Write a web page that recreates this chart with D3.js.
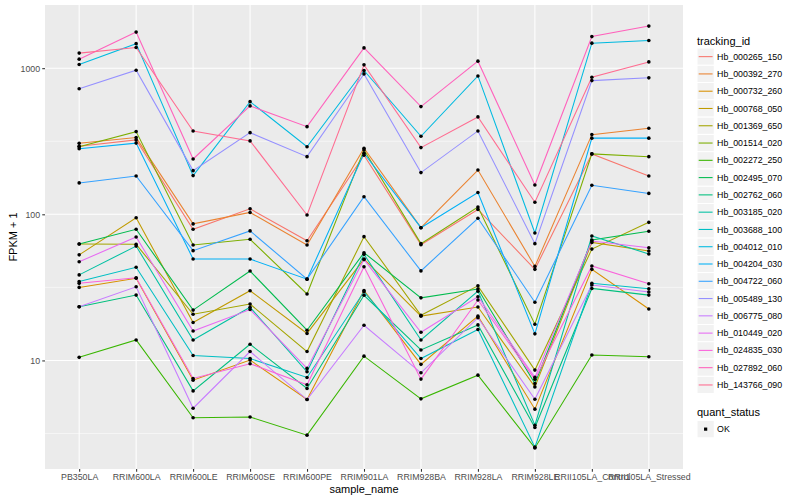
<!DOCTYPE html>
<html>
<head>
<meta charset="utf-8">
<script src="https://cdn.jsdelivr.net/npm/d3@7"></script>
<style>
  body { margin: 0; background: #fff; }
  text { font-family: "Liberation Sans", Arial, sans-serif; }
</style>
</head>
<body>
<div id="chart"></div>
<script>
// samples on the x axis
var samples = ["PB350LA", "RRIM600LA", "RRIM600LE", "RRIM600SE", "RRIM600PE", "RRIM901LA",
  "RRIM928BA", "RRIM928LA", "RRIM928LE", "RRII105LA_Control", "RRII105LA_Stressed"];

var trackingIds = ["Hb_000265_150", "Hb_000392_270", "Hb_000732_260", "Hb_000768_050", "Hb_001369_650",
  "Hb_001514_020", "Hb_002272_250", "Hb_002495_070", "Hb_002762_060", "Hb_003185_020",
  "Hb_003688_100", "Hb_004012_010", "Hb_004204_030", "Hb_004722_060", "Hb_005489_130",
  "Hb_006775_080", "Hb_010449_020", "Hb_024835_030", "Hb_027892_060", "Hb_143766_090"];

// ggplot default hue palette for 20 groups
var colours = ["#F8766D", "#EA8331", "#D89000", "#C09B00", "#A3A500", "#7CAE00", "#39B600", "#00BB4E",
  "#00BF7D", "#00C1A3", "#00BFC4", "#00BAE0", "#00B0F6", "#35A2FF", "#9590FF", "#C77CFF",
  "#E76BF3", "#FA62DB", "#FF62BC", "#FF6C91"];

// FPKM + 1, one row per tracking_id, one value per sample
var fpkm = [
  [292, 323, 79, 109, 65.9, 254, 62, 108, 42, 259, 183],          // Hb_000265_150
  [306, 335, 86, 103, 61.7, 283, 81, 201, 44, 351, 388],          // Hb_000392_270
  [31.6, 36.5, 7.33, 10.05, 5.4, 30.1, 9.4, 20.1, 4.64, 42, 22.5], // Hb_000732_260
  [52.8, 94.8, 18.2, 30, 15.3, 49.4, 20.1, 23.2, 6.59, 64.2, 56.1], // Hb_000768_050
  [62.6, 62.3, 20.7, 24.3, 11.5, 70.3, 20.4, 32.4, 8.59, 57.8, 88.1], // Hb_001369_650
  [290, 368, 61.7, 67.5, 28.5, 276, 63, 112, 17.7, 259, 248],     // Hb_001514_020
  [10.5, 13.8, 4.05, 4.1, 3.08, 10.7, 5.46, 7.93, 2.52, 10.9, 10.6], // Hb_002272_250
  [62.6, 79, 22.1, 40.9, 16.1, 54.6, 26.8, 30.8, 6.96, 66.7, 76.6], // Hb_002495_070
  [23.3, 28, 6.19, 12.9, 6.43, 27.9, 11.8, 17.5, 3.48, 31.1, 28],  // Hb_002762_060
  [38.5, 60.6, 13.8, 23.1, 8.36, 53.2, 13.8, 29.8, 3.6, 71, 53.5], // Hb_003185_020
  [34.7, 43.4, 10.8, 10.3, 7.65, 29.5, 10.3, 16.3, 2.55, 33.7, 30.9], // Hb_003688_100
  [1060, 1472, 184, 590, 290, 964, 342, 885, 74.5, 1483, 1546],    // Hb_004012_010
  [281, 307, 49.4, 49.4, 36, 262, 81, 141, 15.2, 332, 332],       // Hb_004204_030
  [164, 183, 56.4, 77, 36, 132, 41, 94, 25, 158, 139],            // Hb_004722_060
  [724, 968, 199, 362, 248, 914, 193, 372, 63, 822, 859],         // Hb_005489_130
  [23.3, 31.9, 4.71, 11.5, 5.4, 17.4, 8.23, 19.6, 5.43, 32.8, 29.4], // Hb_006775_080
  [47.3, 70, 15.9, 22.3, 8.82, 49, 15.6, 27.3, 7.66, 65.6, 59],    // Hb_010449_020
  [33.7, 36.8, 7.53, 9.5, 6.81, 43.8, 7.45, 25.9, 7.42, 44.3, 33.5], // Hb_024835_030
  [1153, 1766, 239, 552, 398, 1377, 546, 1117, 158.6, 1645, 1941], // Hb_027892_060
  [1268, 1384, 372, 318, 98.9, 1054, 286, 464, 121, 867, 1104]     // Hb_143766_090
];

var yMajor = [10, 100, 1000];
var yMinor = [Math.pow(10, 0.5), Math.pow(10, 1.5), Math.pow(10, 2.5)];

var svgWidth = 800;
var svgHeight = 500;
var margin = { top: 5, right: 117, bottom: 31, left: 45 };
var width = svgWidth - margin.left - margin.right;
var height = svgHeight - margin.top - margin.bottom;

var svg = d3.select("#chart")
  .append("svg")
  .attr("width", svgWidth)
  .attr("height", svgHeight);

svg.append("rect").attr("width", svgWidth).attr("height", svgHeight).attr("fill", "#fff");

var chartGroup = svg.append("g")
  .attr("transform", `translate(${margin.left}, ${margin.top})`);

// scales (log range expanded 5% like ggplot)
var xScale = d3.scalePoint()
  .domain(samples)
  .range([0, width])
  .padding(0.6);

var allVals = d3.merge(fpkm);
var lo = Math.log10(d3.min(allVals)), hi = Math.log10(d3.max(allVals));
var pad = (hi - lo) * 0.05;
var yScale = d3.scaleLog()
  .domain([Math.pow(10, lo - pad), Math.pow(10, hi + pad)])
  .range([height, 0]);

// panel + grid
chartGroup.append("rect")
  .attr("width", width)
  .attr("height", height)
  .attr("fill", "#EBEBEB");

chartGroup.selectAll(".minor")
  .data(yMinor)
  .enter()
  .append("line")
  .attr("x1", 0).attr("x2", width)
  .attr("y1", d => yScale(d)).attr("y2", d => yScale(d))
  .attr("stroke", "#fff").attr("stroke-width", 0.53);

chartGroup.selectAll(".majorY")
  .data(yMajor)
  .enter()
  .append("line")
  .attr("x1", 0).attr("x2", width)
  .attr("y1", d => yScale(d)).attr("y2", d => yScale(d))
  .attr("stroke", "#fff").attr("stroke-width", 1.07);

chartGroup.selectAll(".majorX")
  .data(samples)
  .enter()
  .append("line")
  .attr("x1", d => xScale(d)).attr("x2", d => xScale(d))
  .attr("y1", 0).attr("y2", height)
  .attr("stroke", "#fff").attr("stroke-width", 1.07);

// lines
var line = d3.line()
  .x((d, i) => xScale(samples[i]))
  .y(d => yScale(d));

chartGroup.selectAll(".series")
  .data(fpkm)
  .enter()
  .append("path")
  .attr("d", d => line(d))
  .attr("fill", "none")
  .attr("stroke", (d, i) => colours[i])
  .attr("stroke-width", 1.07);

// points
fpkm.forEach(function(row) {
  chartGroup.selectAll(null)
    .data(row)
    .enter()
    .append("circle")
    .attr("cx", (d, i) => xScale(samples[i]))
    .attr("cy", d => yScale(d))
    .attr("r", 1.8)
    .attr("fill", "#000");
});

// axes
var bottomAxis = d3.axisBottom(xScale).tickSize(2.75).tickPadding(2.2);
var leftAxis = d3.axisLeft(yScale).tickValues(yMajor).tickFormat(d3.format("d")).tickSize(2.75).tickPadding(2.2);

var xg = chartGroup.append("g")
  .attr("transform", `translate(0, ${height})`)
  .call(bottomAxis);
var yg = chartGroup.append("g")
  .call(leftAxis);

[xg, yg].forEach(function(g) {
  g.select(".domain").remove();
  g.selectAll(".tick line").attr("stroke", "#333333").attr("stroke-width", 1.07);
  g.selectAll(".tick text")
    .attr("fill", "#4D4D4D")
    .style("font-size", "8.8px")
    .style("font-family", "'Liberation Sans', Arial, sans-serif");
});

chartGroup.append("text")
  .attr("x", width / 2)
  .attr("y", height + 24)
  .attr("text-anchor", "middle")
  .style("font-size", "11px")
  .text("sample_name");

svg.append("text")
  .attr("transform", `translate(17, ${margin.top + height / 2}) rotate(-90)`)
  .attr("text-anchor", "middle")
  .style("font-size", "11px")
  .text("FPKM + 1");

// legend
var legend = svg.append("g").attr("transform", "translate(697, 0)");
var keySize = 17.28;
var keyTop = 48;

legend.append("text")
  .attr("x", 0).attr("y", 44.5)
  .style("font-size", "11px")
  .text("tracking_id");

var keys = legend.selectAll(".key")
  .data(trackingIds)
  .enter()
  .append("g")
  .attr("transform", (d, i) => `translate(0, ${keyTop + i * keySize})`);

keys.append("rect")
  .attr("width", keySize).attr("height", keySize)
  .attr("fill", "#F2F2F2").attr("stroke", "#fff").attr("stroke-width", 1);

keys.append("line")
  .attr("x1", 1.7).attr("x2", keySize - 1.7)
  .attr("y1", keySize / 2).attr("y2", keySize / 2)
  .attr("stroke", (d, i) => colours[i])
  .attr("stroke-width", 1.07);

keys.append("text")
  .attr("x", keySize + 2.8)
  .attr("y", keySize / 2)
  .attr("dy", "0.35em")
  .style("font-size", "8.8px")
  .text(d => d);

legend.append("text")
  .attr("x", 0).attr("y", 416.3)
  .style("font-size", "11px")
  .text("quant_status");

legend.append("rect")
  .attr("y", 420.5)
  .attr("width", keySize).attr("height", keySize)
  .attr("fill", "#F2F2F2").attr("stroke", "#fff");

legend.append("rect")
  .attr("x", keySize / 2 - 1.6).attr("y", 420.5 + keySize / 2 - 1.6)
  .attr("width", 3.2).attr("height", 3.2)
  .attr("fill", "#000");

legend.append("text")
  .attr("x", keySize + 2.8)
  .attr("y", 420.5 + keySize / 2)
  .attr("dy", "0.35em")
  .style("font-size", "8.8px")
  .text("OK");
</script>
</body>
</html>
